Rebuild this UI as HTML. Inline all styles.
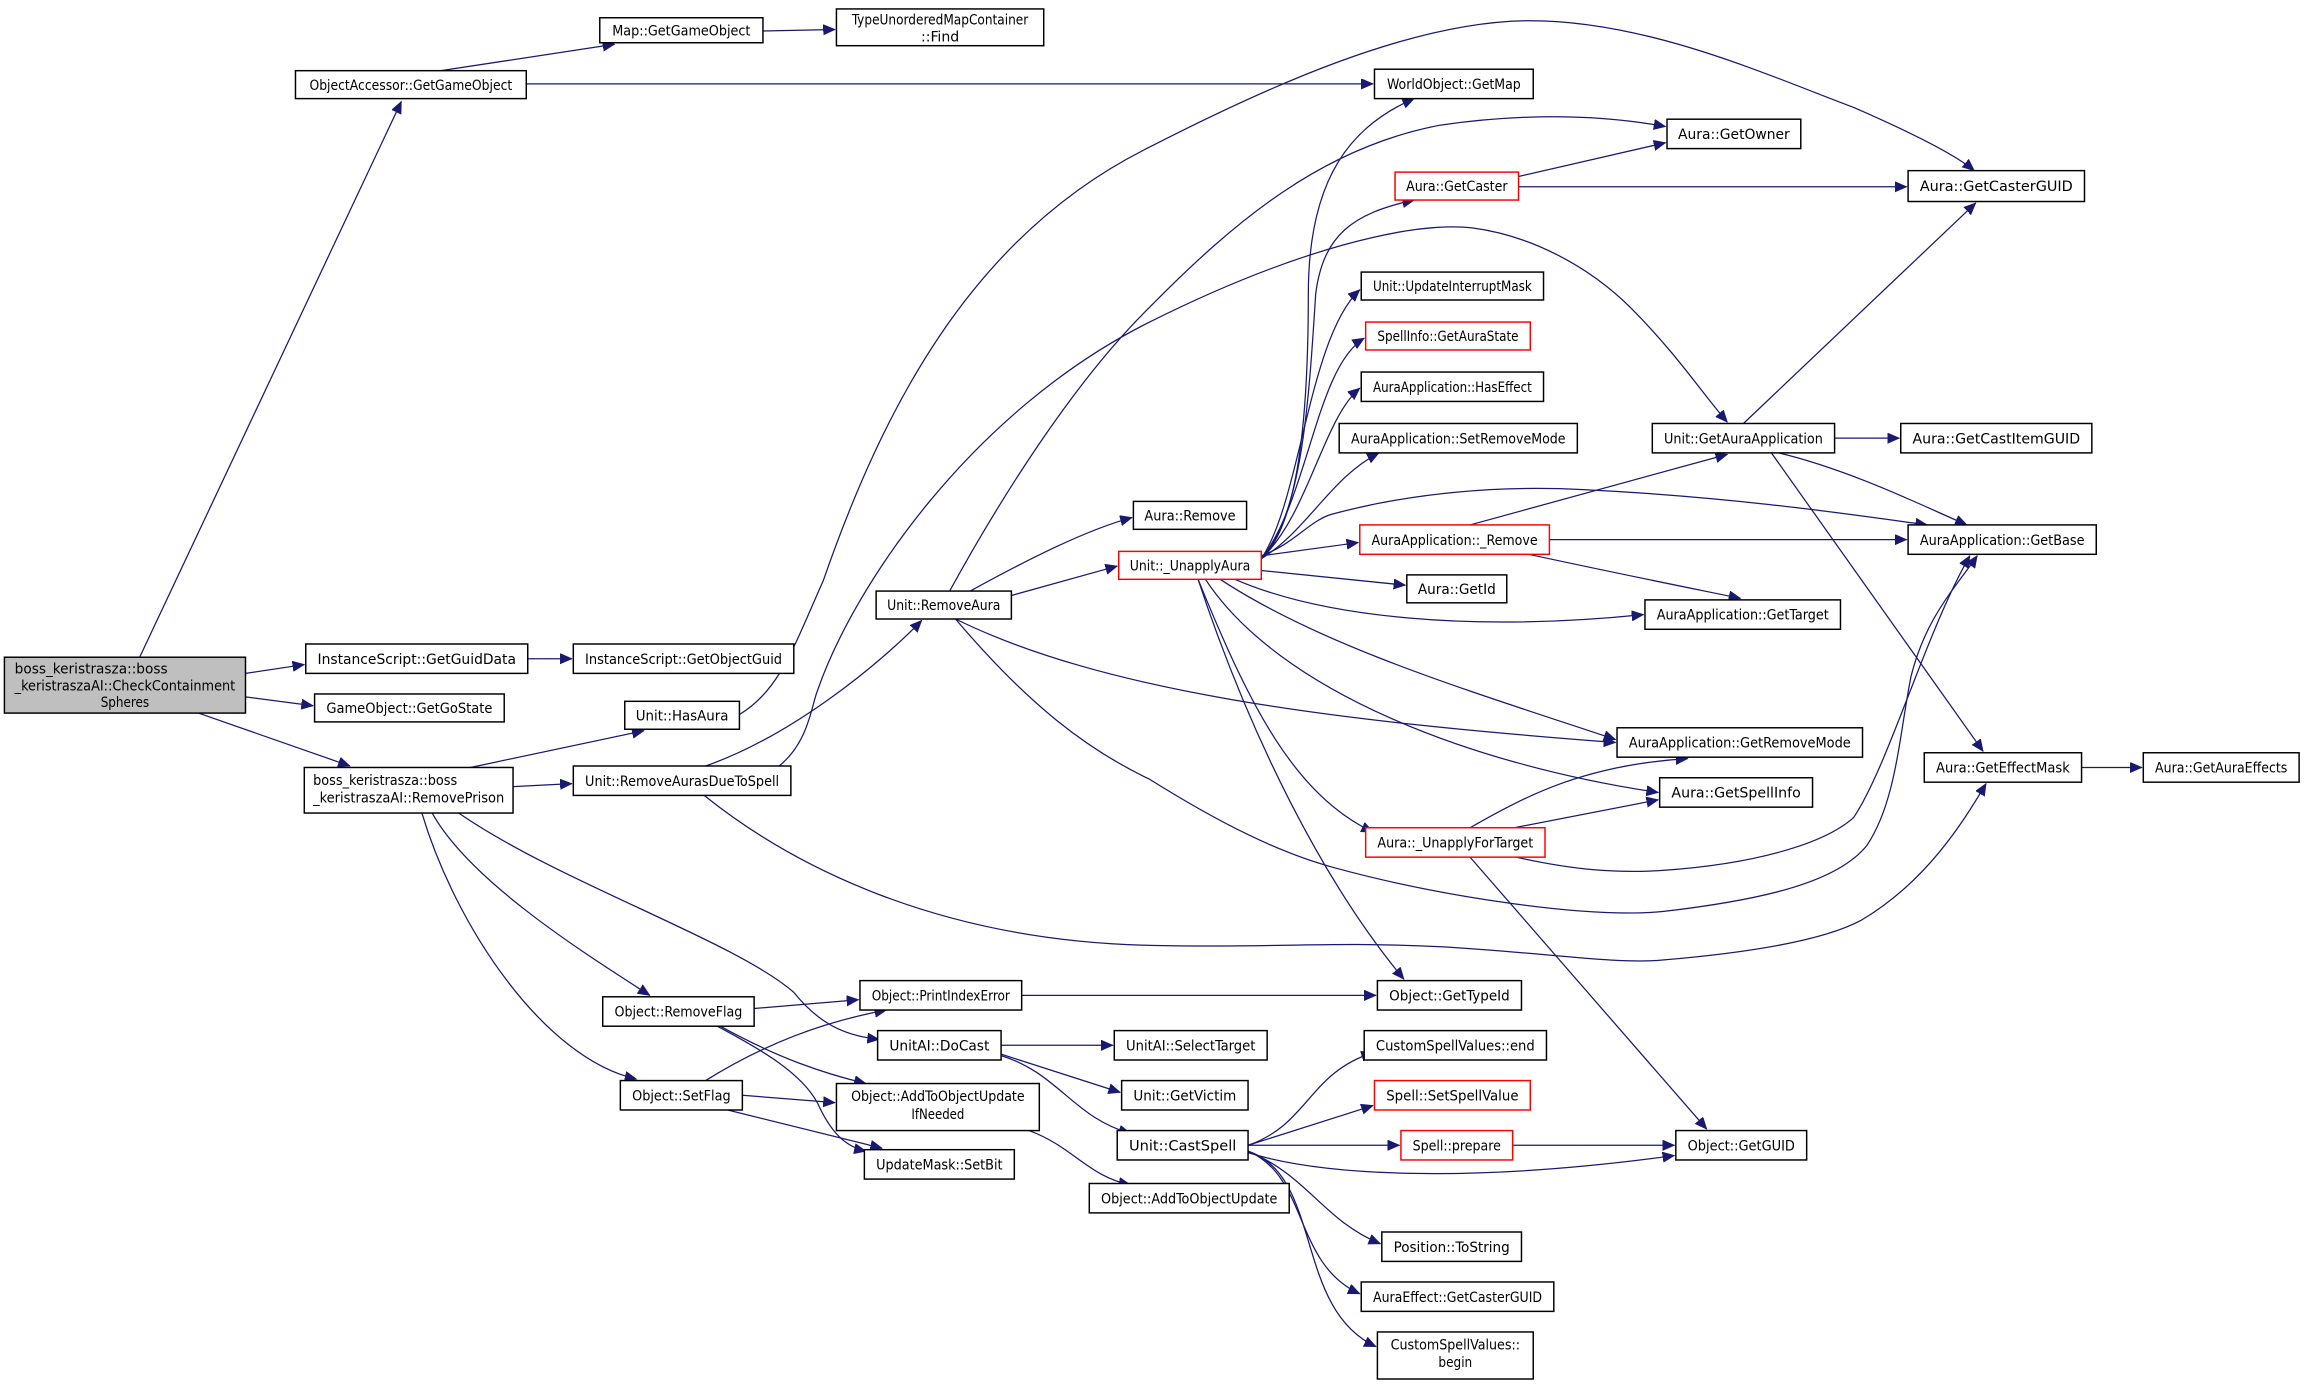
<!DOCTYPE html>
<html><head><meta charset="utf-8"><style>
html,body{margin:0;padding:0;background:#fff;}
svg{display:block;}
text{font-family:"DejaVu Sans Condensed","Liberation Sans",sans-serif;font-size:9.4px;fill:#000;}
.e{fill:none;stroke:#191970;stroke-width:0.85;marker-end:url(#a);}
.n{fill:#fff;stroke:#000;stroke-width:1;}
.r{fill:#fff;stroke:#ff0000;stroke-width:1;}
</style></head><body>
<svg width="2305" height="1385" viewBox="0 0 1568 942" xmlns="http://www.w3.org/2000/svg">
<defs><marker id="a" markerUnits="userSpaceOnUse" markerWidth="10" markerHeight="8" refX="8" refY="3.5" orient="auto"><path d="M0,0 L8,3.5 L0,7 z" fill="#191970" stroke="#191970" stroke-width="0.5"/></marker></defs>
<rect width="1568" height="942" fill="#fff"/>
<!-- edges -->
<path class="e" d="M95,447 L273,69"/>
<path class="e" d="M167,458 L207,452"/>
<path class="e" d="M167,474 L213,480"/>
<path class="e" d="M135,485 L238,521"/>
<path class="e" d="M300,48 L418,30"/>
<path class="e" d="M519,21 L568,20"/>
<path class="e" d="M358,57 L934,57"/>
<path class="e" d="M359,448 L389,448"/>
<path class="e" d="M320,522 L438,497"/>
<path class="e" d="M349,535 L389,533"/>
<path class="e" d="M294,553 C320,600 400,650 442,677"/>
<path class="e" d="M287,553 C310,630 370,720 433,734"/>
<path class="e" d="M312,553 C380,600 500,640 540,675 C560,700 580,705 598,707"/>
<path class="e" d="M503,486 C530,470 540,440 560,395 C600,280 660,160 782,100 C860,60 960,14 1041,14 C1120,14 1200,50 1261,73 C1300,90 1330,105 1343,116"/>
<path class="e" d="M480,521 C540,500 600,450 627,422"/>
<path class="e" d="M530,521 C550,505 552,480 556,470 C580,400 660,280 782,219 C880,170 960,150 1002,155 C1040,160 1080,180 1110,210 C1140,240 1160,270 1175,287"/>
<path class="e" d="M646,402 C680,340 730,260 782,209 C840,150 900,100 980,85 C1050,75 1100,80 1133,86"/>
<path class="e" d="M858,380 C880,360 890,300 890,200 C890,120 920,85 962,67"/>
<path class="e" d="M858,380 C885,350 890,280 895,200 C900,160 920,145 962,136"/>
<path class="e" d="M858,380 C885,340 890,230 925,197"/>
<path class="e" d="M858,380 C890,340 895,250 928,230"/>
<path class="e" d="M858,380 C890,350 900,285 925,264"/>
<path class="e" d="M858,380 C890,360 905,325 938,308"/>
<path class="e" d="M858,378 C880,370 890,355 905,350 C960,335 1020,330 1077,333 C1180,338 1260,350 1311,357"/>
<path class="e" d="M858,378 L924,369"/>
<path class="e" d="M858,388 L956,398"/>
<path class="e" d="M840,394 C900,420 1000,430 1118,418"/>
<path class="e" d="M830,394 C900,440 1000,470 1099,503"/>
<path class="e" d="M820,394 C870,470 1000,520 1128,539"/>
<path class="e" d="M815,394 C850,480 880,540 934,566"/>
<path class="e" d="M815,394 C850,500 900,600 955,666"/>
<path class="e" d="M660,402 C700,380 740,360 770,352"/>
<path class="e" d="M688,405 L760,385"/>
<path class="e" d="M650,421 C750,470 900,490 1099,505"/>
<path class="e" d="M650,421 C700,480 740,510 782,530 C830,560 870,580 907,590 C980,610 1080,625 1131,620 C1200,612 1250,600 1270,575 C1290,545 1292,500 1300,460 C1310,420 1330,400 1345,378"/>
<path class="e" d="M1027,582 C1070,592 1100,594 1131,592 C1190,588 1240,575 1261,556 C1285,520 1310,430 1340,378"/>
<path class="e" d="M1000,563 C1040,540 1080,520 1148,516"/>
<path class="e" d="M1030,563 L1128,544"/>
<path class="e" d="M1000,583 L1161,768"/>
<path class="e" d="M479,541 C540,590 640,640 782,643 C870,645 900,640 982,644 C1050,648 1100,656 1131,653 C1190,648 1240,640 1266,626 C1310,600 1335,560 1351,533"/>
<path class="e" d="M1186,288 L1344,138"/>
<path class="e" d="M1248,298 L1292,298"/>
<path class="e" d="M1210,308 C1260,320 1310,345 1338,357"/>
<path class="e" d="M1205,308 L1349,511"/>
<path class="e" d="M1000,357 L1175,309"/>
<path class="e" d="M1054,367 L1297,367"/>
<path class="e" d="M1040,377 C1100,390 1150,400 1184,407"/>
<path class="e" d="M1033,120 L1133,97"/>
<path class="e" d="M1033,127 L1297,127"/>
<path class="e" d="M1416,522 L1457,522"/>
<path class="e" d="M695,677 L936,677"/>
<path class="e" d="M513,686 L584,680"/>
<path class="e" d="M490,698 C530,720 560,730 589,737"/>
<path class="e" d="M486,697 C520,715 545,730 556,750 C565,770 575,780 589,783"/>
<path class="e" d="M480,735 C520,710 560,695 603,687"/>
<path class="e" d="M505,745 L568,750"/>
<path class="e" d="M495,755 L600,781"/>
<path class="e" d="M681,711 L757,711"/>
<path class="e" d="M681,717 L762,743"/>
<path class="e" d="M681,718 C720,730 730,760 769,771"/>
<path class="e" d="M700,769 C730,780 740,800 769,806"/>
<path class="e" d="M849,779 C890,765 890,730 934,716"/>
<path class="e" d="M849,779 L934,752"/>
<path class="e" d="M849,779 L952,779"/>
<path class="e" d="M1029,779 L1139,779"/>
<path class="e" d="M849,784 C900,800 1000,805 1139,786"/>
<path class="e" d="M849,783 C890,800 900,830 939,846"/>
<path class="e" d="M849,783 C890,800 880,860 925,880"/>
<path class="e" d="M849,783 C900,800 880,890 936,916"/>
<!-- nodes -->
<rect x="3" y="447" width="164" height="38" fill="#bfbfbf" stroke="#000" stroke-width="1"/>
<text x="10" y="458" textLength="104" lengthAdjust="spacingAndGlyphs">boss_keristrasza::boss</text>
<text x="10" y="469.5" textLength="150" lengthAdjust="spacingAndGlyphs">_keristraszaAI::CheckContainment</text>
<text x="85" y="481" text-anchor="middle" textLength="33" lengthAdjust="spacingAndGlyphs">Spheres</text>

<rect class="n" x="207" y="522" width="142" height="31"/>
<text x="213" y="534" textLength="98" lengthAdjust="spacingAndGlyphs">boss_keristrasza::boss</text>
<text x="213" y="546" textLength="130" lengthAdjust="spacingAndGlyphs">_keristraszaAI::RemovePrison</text>

<rect class="n" x="569" y="6" width="141" height="25"/>
<text x="639.5" y="16.5" text-anchor="middle" textLength="120" lengthAdjust="spacingAndGlyphs">TypeUnorderedMapContainer</text>
<text x="639.5" y="28" text-anchor="middle" textLength="26" lengthAdjust="spacingAndGlyphs">::Find</text>

<rect class="n" x="569" y="737" width="138" height="32"/>
<text x="638" y="749" text-anchor="middle" textLength="118" lengthAdjust="spacingAndGlyphs">Object::AddToObjectUpdate</text>
<text x="638" y="761" text-anchor="middle" textLength="36" lengthAdjust="spacingAndGlyphs">IfNeeded</text>

<rect class="n" x="937" y="906" width="106" height="32"/>
<text x="990" y="918" text-anchor="middle" textLength="88" lengthAdjust="spacingAndGlyphs">CustomSpellValues::</text>
<text x="990" y="930" text-anchor="middle" textLength="23" lengthAdjust="spacingAndGlyphs">begin</text>

<g>
<rect class="n" x="201" y="48" width="157" height="19"/><text x="279.5" y="61" text-anchor="middle" textLength="138" lengthAdjust="spacingAndGlyphs">ObjectAccessor::GetGameObject</text>
<rect class="n" x="408" y="12" width="111" height="17"/><text x="463.5" y="24" text-anchor="middle" textLength="94" lengthAdjust="spacingAndGlyphs">Map::GetGameObject</text>
<rect class="n" x="935" y="47" width="108" height="20"/><text x="989" y="60.5" text-anchor="middle" textLength="91" lengthAdjust="spacingAndGlyphs">WorldObject::GetMap</text>
<rect class="n" x="1134" y="81" width="91" height="20"/><text x="1179.5" y="94.5" text-anchor="middle" textLength="76" lengthAdjust="spacingAndGlyphs">Aura::GetOwner</text>
<rect class="r" x="949" y="117" width="84" height="19"/><text x="991" y="130" text-anchor="middle" textLength="69" lengthAdjust="spacingAndGlyphs">Aura::GetCaster</text>
<rect class="n" x="1298" y="116" width="120" height="21"/><text x="1358" y="130" text-anchor="middle" textLength="104" lengthAdjust="spacingAndGlyphs">Aura::GetCasterGUID</text>
<rect class="n" x="926" y="185" width="124" height="19"/><text x="988" y="198" text-anchor="middle" textLength="108" lengthAdjust="spacingAndGlyphs">Unit::UpdateInterruptMask</text>
<rect class="r" x="929" y="219" width="112" height="19"/><text x="985" y="232" text-anchor="middle" textLength="96" lengthAdjust="spacingAndGlyphs">SpellInfo::GetAuraState</text>
<rect class="n" x="926" y="253" width="124" height="20"/><text x="988" y="266.5" text-anchor="middle" textLength="108" lengthAdjust="spacingAndGlyphs">AuraApplication::HasEffect</text>
<rect class="n" x="911" y="288" width="162" height="20"/><text x="992" y="301.5" text-anchor="middle" textLength="146" lengthAdjust="spacingAndGlyphs">AuraApplication::SetRemoveMode</text>
<rect class="n" x="1124" y="288" width="124" height="20"/><text x="1186" y="301.5" text-anchor="middle" textLength="108" lengthAdjust="spacingAndGlyphs">Unit::GetAuraApplication</text>
<rect class="n" x="1293" y="288" width="130" height="20"/><text x="1358" y="301.5" text-anchor="middle" textLength="114" lengthAdjust="spacingAndGlyphs">Aura::GetCastItemGUID</text>
<rect class="n" x="771" y="341" width="77" height="19"/><text x="809.5" y="354" text-anchor="middle" textLength="62" lengthAdjust="spacingAndGlyphs">Aura::Remove</text>
<rect class="r" x="761" y="375" width="97" height="19"/><text x="809.5" y="388" text-anchor="middle" textLength="82" lengthAdjust="spacingAndGlyphs">Unit::_UnapplyAura</text>
<rect class="r" x="925" y="357" width="129" height="20"/><text x="989.5" y="370.5" text-anchor="middle" textLength="113" lengthAdjust="spacingAndGlyphs">AuraApplication::_Remove</text>
<rect class="n" x="1298" y="357" width="128" height="20"/><text x="1362" y="370.5" text-anchor="middle" textLength="112" lengthAdjust="spacingAndGlyphs">AuraApplication::GetBase</text>
<rect class="n" x="957" y="391" width="68" height="19"/><text x="991" y="404" text-anchor="middle" textLength="53" lengthAdjust="spacingAndGlyphs">Aura::GetId</text>
<rect class="n" x="1119" y="408" width="133" height="20"/><text x="1185.5" y="421.5" text-anchor="middle" textLength="117" lengthAdjust="spacingAndGlyphs">AuraApplication::GetTarget</text>
<rect class="n" x="596" y="402" width="92" height="19"/><text x="642" y="415" text-anchor="middle" textLength="77" lengthAdjust="spacingAndGlyphs">Unit::RemoveAura</text>
<rect class="n" x="208" y="438" width="151" height="20"/><text x="283.5" y="451.5" text-anchor="middle" textLength="135" lengthAdjust="spacingAndGlyphs">InstanceScript::GetGuidData</text>
<rect class="n" x="390" y="438" width="150" height="20"/><text x="465" y="451.5" text-anchor="middle" textLength="134" lengthAdjust="spacingAndGlyphs">InstanceScript::GetObjectGuid</text>
<rect class="n" x="214" y="472" width="129" height="19"/><text x="278.5" y="485" text-anchor="middle" textLength="113" lengthAdjust="spacingAndGlyphs">GameObject::GetGoState</text>
<rect class="n" x="425" y="477" width="78" height="19"/><text x="464" y="490" text-anchor="middle" textLength="63" lengthAdjust="spacingAndGlyphs">Unit::HasAura</text>
<rect class="n" x="390" y="521" width="148" height="20"/><text x="464" y="534.5" text-anchor="middle" textLength="132" lengthAdjust="spacingAndGlyphs">Unit::RemoveAurasDueToSpell</text>
<rect class="n" x="1100" y="495" width="167" height="20"/><text x="1183.5" y="508.5" text-anchor="middle" textLength="151" lengthAdjust="spacingAndGlyphs">AuraApplication::GetRemoveMode</text>
<rect class="n" x="1129" y="529" width="104" height="20"/><text x="1181" y="542.5" text-anchor="middle" textLength="88" lengthAdjust="spacingAndGlyphs">Aura::GetSpellInfo</text>
<rect class="r" x="929" y="563" width="122" height="20"/><text x="990" y="576.5" text-anchor="middle" textLength="106" lengthAdjust="spacingAndGlyphs">Aura::_UnapplyForTarget</text>
<rect class="n" x="1309" y="512" width="107" height="20"/><text x="1362.5" y="525.5" text-anchor="middle" textLength="91" lengthAdjust="spacingAndGlyphs">Aura::GetEffectMask</text>
<rect class="n" x="1458" y="512" width="106" height="20"/><text x="1511" y="525.5" text-anchor="middle" textLength="90" lengthAdjust="spacingAndGlyphs">Aura::GetAuraEffects</text>
<rect class="n" x="937" y="667" width="98" height="20"/><text x="986" y="680.5" text-anchor="middle" textLength="82" lengthAdjust="spacingAndGlyphs">Object::GetTypeId</text>
<rect class="n" x="585" y="667" width="110" height="20"/><text x="640" y="680.5" text-anchor="middle" textLength="94" lengthAdjust="spacingAndGlyphs">Object::PrintIndexError</text>
<rect class="n" x="410" y="678" width="103" height="20"/><text x="461.5" y="691.5" text-anchor="middle" textLength="87" lengthAdjust="spacingAndGlyphs">Object::RemoveFlag</text>
<rect class="n" x="597" y="701" width="84" height="20"/><text x="639" y="714.5" text-anchor="middle" textLength="68" lengthAdjust="spacingAndGlyphs">UnitAI::DoCast</text>
<rect class="n" x="758" y="701" width="104" height="20"/><text x="810" y="714.5" text-anchor="middle" textLength="88" lengthAdjust="spacingAndGlyphs">UnitAI::SelectTarget</text>
<rect class="n" x="928" y="701" width="124" height="20"/><text x="990" y="714.5" text-anchor="middle" textLength="108" lengthAdjust="spacingAndGlyphs">CustomSpellValues::end</text>
<rect class="n" x="422" y="735" width="83" height="20"/><text x="463.5" y="748.5" text-anchor="middle" textLength="67" lengthAdjust="spacingAndGlyphs">Object::SetFlag</text>
<rect class="n" x="763" y="735" width="86" height="20"/><text x="806" y="748.5" text-anchor="middle" textLength="70" lengthAdjust="spacingAndGlyphs">Unit::GetVictim</text>
<rect class="r" x="935" y="735" width="106" height="20"/><text x="988" y="748.5" text-anchor="middle" textLength="90" lengthAdjust="spacingAndGlyphs">Spell::SetSpellValue</text>
<rect class="n" x="760" y="769" width="89" height="20"/><text x="804.5" y="782.5" text-anchor="middle" textLength="73" lengthAdjust="spacingAndGlyphs">Unit::CastSpell</text>
<rect class="r" x="953" y="769" width="76" height="20"/><text x="991" y="782.5" text-anchor="middle" textLength="60" lengthAdjust="spacingAndGlyphs">Spell::prepare</text>
<rect class="n" x="1140" y="769" width="89" height="20"/><text x="1184.5" y="782.5" text-anchor="middle" textLength="73" lengthAdjust="spacingAndGlyphs">Object::GetGUID</text>
<rect class="n" x="588" y="782" width="102" height="20"/><text x="639" y="795.5" text-anchor="middle" textLength="86" lengthAdjust="spacingAndGlyphs">UpdateMask::SetBit</text>
<rect class="n" x="741" y="805" width="136" height="20"/><text x="809" y="818.5" text-anchor="middle" textLength="120" lengthAdjust="spacingAndGlyphs">Object::AddToObjectUpdate</text>
<rect class="n" x="940" y="838" width="95" height="20"/><text x="987.5" y="851.5" text-anchor="middle" textLength="79" lengthAdjust="spacingAndGlyphs">Position::ToString</text>
<rect class="n" x="926" y="872" width="131" height="20"/><text x="991.5" y="885.5" text-anchor="middle" textLength="115" lengthAdjust="spacingAndGlyphs">AuraEffect::GetCasterGUID</text>
</g>
</svg>
</body></html>
